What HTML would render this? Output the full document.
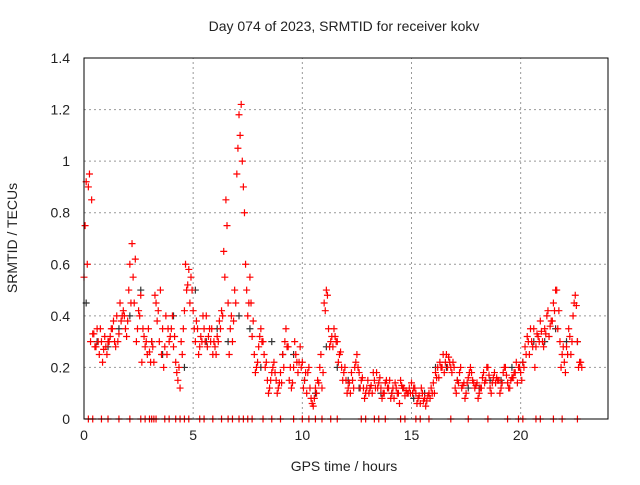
<!DOCTYPE html>
<html><head><meta charset="utf-8"><style>
body{margin:0;background:#fff;width:640px;height:480px;overflow:hidden}
text{font-family:"Liberation Sans",sans-serif;font-size:14px;fill:#222}
</style></head><body>
<svg id="chart" width="640" height="480" xmlns="http://www.w3.org/2000/svg">
<text x="344" y="31" text-anchor="middle">Day 074 of 2023, SRMTID for receiver kokv</text>
<text x="344" y="471" text-anchor="middle">GPS time / hours</text>
<text x="17" y="238" text-anchor="middle" transform="rotate(-90 17 238)">SRMTID / TECUs</text>
<g id="grid"></g><g id="marks"></g><g id="axes"></g>
</svg>
<script>
const xTicks=[0,5,10,15,20];
const yTicks=[0,0.2,0.4,0.6,0.8,1,1.2,1.4];
const yTickLabels=["0","0.2","0.4","0.6","0.8","1","1.2","1.4"];
const redA=[.55,.92,.9,.3,.33,.28,.35,.25,.3,.27,
.28,.3,.32,.35,.3,.4,.33,.38,.42,.35,
.38,.6,.68,.45,.3,.42,.48,.35,.28,.25,
.26,.3,.22,.45,.42,.5,.35,.28,.25,.3,
.35,.28,.22,.15,.12,.25,.42,.5,.58,.55,
.42,.3,.35,.28,.3,.35,.4,.32,.3,.25,
.28,.32,.38,.42,.65,.85,.45,.35,.3,.5,
.95,1.18,1.22,.9,.6,.4,.55,.32,.25,.2,
.28,.35,.3,.2,.15,.12,.18,.22,.15,.12,
.18,.25,.3,.28,.15,.12,.2,.25,.18,.28,
.22,.15,.1,.2,.08,.05,.12,.15,.2,.12,
.45,.5,.35,.3,.28,.32,.3,.25,.2,.18,
.15,.12,.1,.15,.2,.25,.18,.15,.12,.1,
.15,.12,.1,.15,.18,.14,.12,.1,.14,.12,
.15,.1,.08,.12,.1,.15,.12,.09,.1,.12,
.14,.12,.1,.08,.06,.1,.08,.07,.1,.12,
.14,.18,.2,.22,.2,.18,.25,.24,.2,.22,
.12,.15,.18,.12,.14,.1,.16,.2,.15,.12,
.14,.1,.12,.18,.15,.2,.12,.14,.18,.16,
.15,.12,.18,.2,.14,.12,.16,.18,.22,.2,
.18,.22,.28,.32,.25,.3,.35,.28,.32,.38,
.3,.35,.4,.32,.38,.45,.5,.35,.3,.25,
.22,.28,.35,.25,.4,.48,.3,.22,.2];
const redB=[.75,.95,.33,.3,.22,.25,.35,.28,.45,.4,.5,.55,.35,.22,.3,.22,.48,.3,.2,.35,
.4,.18,.3,.6,.45,.35,.25,.4,.28,.35,.25,.35,.55,.25,.38,1.05,1.0,.5,.45,.18,
.32,.25,.1,.2,.1,.14,.35,.2,.3,.22,.12,.18,.06,.1,.25,.42,.28,.35,.22,.15,
.1,.18,.22,.12,.08,.1,.18,.12,.08,.15,.08,.14,.06,.12,.1,.1,.06,.12,.05,.08,
.1,.16,.25,.2,.18,.1,.2,.08,.18,.14,.08,.16,.2,.1,.14,.1,.2,.12,.16,.14,
.15,.25,.35,.2,.3,.28,.42,.38,.5,.2,.18,.32,.45,.2];
const redC=[.6,.85,.28,.35,.32,.3,.38,.3,.4,.32,.45,.62,.4,.32,.35,.28,.38,.25,.4,.32,
.32,.2,.35,.52,.5,.38,.32,.3,.35,.3,.3,.4,.75,.4,.45,1.1,.8,.45,.38,.22,
.3,.22,.15,.18,.14,.2,.28,.14,.22,.2,.18,.12,.08,.14,.18,.48,.32,.3,.26,.2,
.14,.12,.2,.16,.12,.13,.12,.16,.1,.12,.12,.1,.13,.11,.1,.12,.09,.07,.09,.1,
.16,.2,.22,.22,.2,.14,.13,.14,.18,.13,.12,.14,.17,.16,.15,.14,.17,.15,.18,.2,
.2,.3,.28,.33,.34,.33,.36,.42,.42,.28,.25,.3,.44,.22];
const blackVals=[.45,.3,.28,.35,.4,.5,.3,.25,.4,.2,.5,.3,.35,.3,.4,.35,.2,.3,.25,.25,.15,.1,.28,.2,.15,.12,.12,.1,.1,.12,.08,.1,.2,.2,.15,.12,.12,.15,.15,.2,.22,.3,.3,.35,.3,.3];
const zeroHours=[0.2,0.4,0.8,1.1,1.6,2.1,2.6,2.8,3.0,3.1,3.2,3.3,3.7,3.9,4.2,4.4,4.6,4.8,5.3,5.5,5.9,6.3,6.6,6.8,7.1,7.3,7.5,7.7,8.2,8.6,9.0,9.6,10.0,10.3,10.6,10.9,11.3,11.6,12.7,12.9,13.3,13.5,13.8,14.5,14.7,15.2,15.4,15.8,16.8,17.6,18.5,19.4,19.9,20.1,20.7,20.9,21.5,21.9,22.6];

const X0=84,X1=608,Y0=419,Y1=58;
const xs=h=>X0+h*(X1-X0)/24;
const ys=v=>Y0-v*(Y0-Y1)/1.4;
const NS="http://www.w3.org/2000/svg";
function mk(tag,parent,attrs){const e=document.createElementNS(NS,tag);for(const k in attrs)e.setAttribute(k,attrs[k]);parent.appendChild(e);return e;}
const grid=document.getElementById('grid'),marks=document.getElementById('marks'),axes=document.getElementById('axes');
xTicks.forEach(t=>{
 if(t>0){const g=mk('line',grid,{x1:xs(t),x2:xs(t),y1:Y0,y2:Y1,stroke:'#999','stroke-dasharray':'2,3'});
 
 }
 const l=mk('text',axes,{x:xs(t),y:Y0+21,'text-anchor':'middle'});l.textContent=t;
 
 
});
yTicks.forEach((t,i)=>{
 if(t>0&&t<1.4){const g=mk('line',grid,{x1:X0,x2:X1,y1:ys(t),y2:ys(t),stroke:'#999','stroke-dasharray':'2,3'});
 
 }
 const l=mk('text',axes,{x:X0-14,y:ys(t)+5,'text-anchor':'end'});l.textContent=yTickLabels[i];
 
 
});
function plus(h,v,c,name){
 const x=xs(h),y=ys(v);
 const p=mk('path',marks,{d:`M${x-3.5},${y}h7M${x},${y-3.5}v7`,stroke:c,'stroke-width':1.2,fill:'none'});
 
 
}
blackVals.forEach((v,i)=>plus(0.1+0.5*i,v,'#333','black-point'));
redB.forEach((v,i)=>plus(0.05+0.2*i,v,'#f00','red-point'));
redC.forEach((v,i)=>plus(0.15+0.2*i,v,'#f00','red-point'));
redA.forEach((v,i)=>plus(0.1*i,v,'#f00','red-point'));
zeroHours.forEach(h=>plus(h,0,'#f00','zero-point'));
const box=mk('rect',axes,{x:X0,y:Y1,width:X1-X0,height:Y0-Y1,fill:'none',stroke:'#000','stroke-width':1});


</script>
</body></html>
